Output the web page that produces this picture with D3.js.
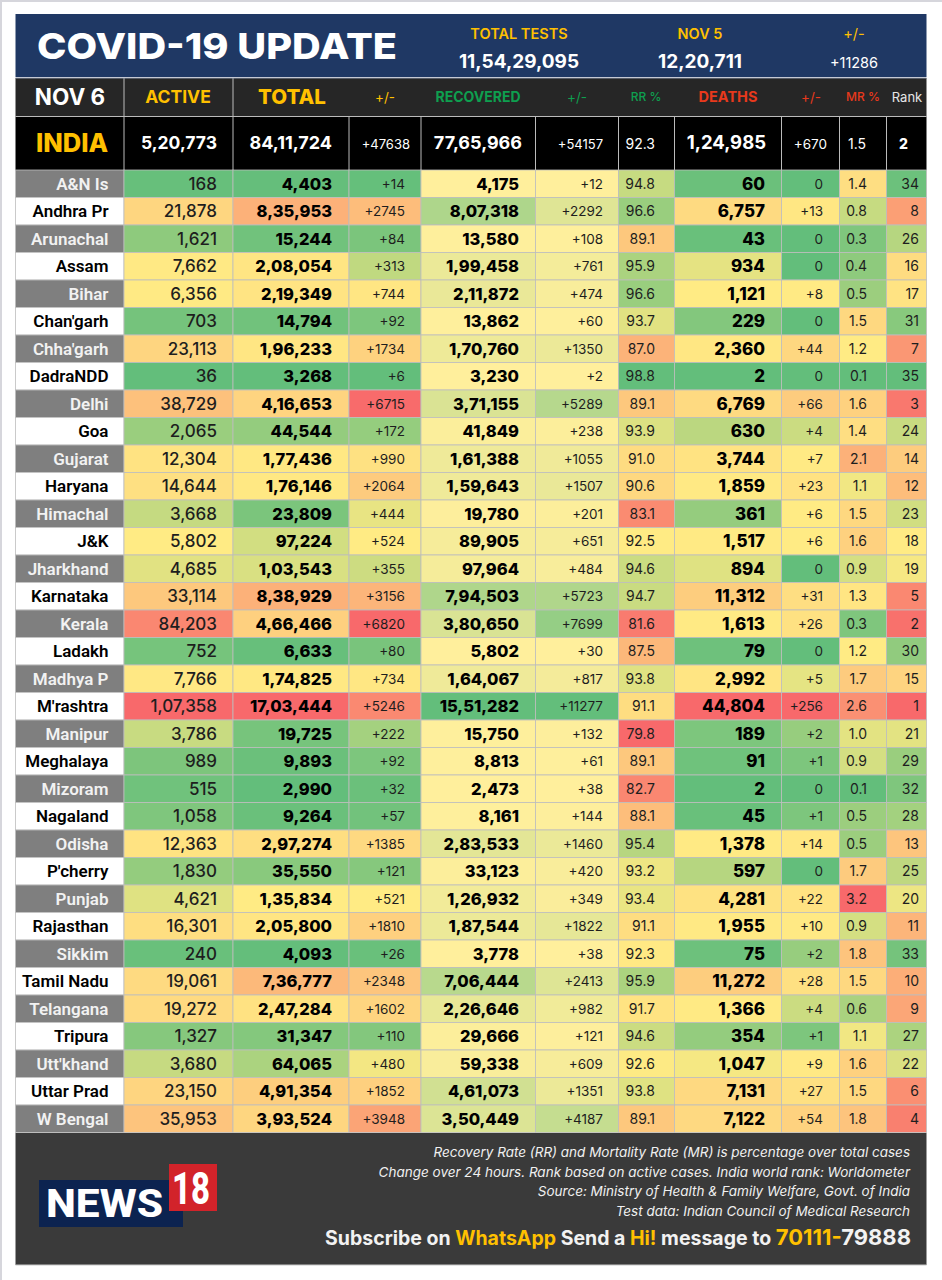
<!DOCTYPE html>
<html>
<head>
<meta charset="utf-8">
<script src="https://cdnjs.cloudflare.com/ajax/libs/d3/7.8.5/d3.min.js"></script>
<style>
  html, body { margin: 0; padding: 0; background: #fff; }
  svg { display: block; }
  text { font-family: Inter, sans-serif; }
</style>
</head>
<body>
<svg id="chart" width="942" height="1280"></svg>
<script>
// ---- data ----
const states = ["A&N Is","Andhra Pr","Arunachal","Assam","Bihar","Chan'garh","Chha'garh","DadraNDD","Delhi","Goa","Gujarat","Haryana","Himachal","J&K","Jharkhand","Karnataka","Kerala","Ladakh","Madhya P","M'rashtra","Manipur","Meghalaya","Mizoram","Nagaland","Odisha","P'cherry","Punjab","Rajasthan","Sikkim","Tamil Nadu","Telangana","Tripura","Utt'khand","Uttar Prad","W Bengal"];
const active = [168,21878,1621,7662,6356,703,23113,36,38729,2065,12304,14644,3668,5802,4685,33114,84203,752,7766,107358,3786,989,515,1058,12363,1830,4621,16301,240,19061,19272,1327,3680,23150,35953];
const total = [4403,835953,15244,208054,219349,14794,196233,3268,416653,44544,177436,176146,23809,97224,103543,838929,466466,6633,174825,1703444,19725,9893,2990,9264,297274,35550,135834,205800,4093,736777,247284,31347,64065,491354,393524];
const totalChange = [14,2745,84,313,744,92,1734,6,6715,172,990,2064,444,524,355,3156,6820,80,734,5246,222,92,32,57,1385,121,521,1810,26,2348,1602,110,480,1852,3948];
const recovered = [4175,807318,13580,199458,211872,13862,170760,3230,371155,41849,161388,159643,19780,89905,97964,794503,380650,5802,164067,1551282,15750,8813,2473,8161,283533,33123,126932,187544,3778,706444,226646,29666,59338,461073,350449];
const recoveredChange = [12,2292,108,761,474,60,1350,2,5289,238,1055,1507,201,651,484,5723,7699,30,817,11277,132,61,38,144,1460,420,349,1822,38,2413,982,121,609,1351,4187];
const recoveryRate = [94.8,96.6,89.1,95.9,96.6,93.7,87.0,98.8,89.1,93.9,91.0,90.6,83.1,92.5,94.6,94.7,81.6,87.5,93.8,91.1,79.8,89.1,82.7,88.1,95.4,93.2,93.4,91.1,92.3,95.9,91.7,94.6,92.6,93.8,89.1];
const deaths = [60,6757,43,934,1121,229,2360,2,6769,630,3744,1859,361,1517,894,11312,1613,79,2992,44804,189,91,2,45,1378,597,4281,1955,75,11272,1366,354,1047,7131,7122];
const deathsChange = [0,13,0,0,8,0,44,0,66,4,7,23,6,6,0,31,26,0,5,256,2,1,0,1,14,0,22,10,2,28,4,1,9,27,54];
const mortalityRate = [1.4,0.8,0.3,0.4,0.5,1.5,1.2,0.1,1.6,1.4,2.1,1.1,1.5,1.6,0.9,1.3,0.3,1.2,1.7,2.6,1.0,0.9,0.1,0.5,0.5,1.7,3.2,0.9,1.8,1.5,0.6,1.1,1.6,1.5,1.8];
const rank = [34,8,26,16,17,31,7,35,3,24,14,12,23,18,19,5,2,30,15,1,21,29,32,28,13,25,20,11,33,10,9,27,22,6,4];

const indiaValues = ["5,20,773","84,11,724","+47638","77,65,966","+54157","92.3","1,24,985","+670","1.5","2"];
const headerLabels = ["ACTIVE","TOTAL","+/-","RECOVERED","+/-","RR %","DEATHS","+/-","MR %","Rank"];
const testLabels = ["TOTAL TESTS","NOV 5","+/-"];
const testValues = ["11,54,29,095","12,20,711","+11286"];
const footNotes = [
  "Recovery Rate (RR) and Mortality Rate (MR) is percentage over total cases",
  "Change over 24 hours. Rank based on active cases. India world rank: Worldometer",
  "Source: Ministry of Health & Family Welfare, Govt. of India",
  "Test data: Indian Council of Medical Research"
];

// ---- layout ----
const left = 15.5, right = 926.5;
const edges = [left,124,233,349,421,535.5,618.5,674.5,781.5,839.5,886.5,right];
const rowY = d3.scaleBand().domain(states).range([170, 1132.5]);
const green = "#63BE7B", yellow = "#FFEB84", red = "#F8696B", paleYellow = "#FFEF9C";

// three colour excel style scale: low - median - high
const heat = v => d3.scaleLinear().domain([d3.min(v), d3.median(v), d3.max(v)]).range([green, yellow, red]);
const heatRev = v => d3.scaleLinear().domain([d3.min(v), d3.median(v), d3.max(v)]).range([red, yellow, green]);
const ramp = v => d3.scaleLinear().domain([d3.min(v), d3.max(v)]).range([paleYellow, green]);

const inr = n => {
  const s = String(n);
  if (s.length <= 3) return s;
  return s.slice(0, -3).replace(/\B(?=(\d{2})+$)/g, ",") + "," + s.slice(-3);
};
const plus = n => n === 0 ? "0" : "+" + n;
const dec = n => n.toFixed(1);

const columns = [
  {values: active, color: heat(active), fmt: inr, tx: 217, size: 17, weight: 500},
  {values: total, color: heat(total), fmt: inr, tx: 332, size: 16.5, weight: 800},
  {values: totalChange, color: heat(totalChange), fmt: plus, tx: 405, size: 13.5, weight: 400},
  {values: recovered, color: ramp(recovered), fmt: inr, tx: 519, size: 16.5, weight: 800},
  {values: recoveredChange, color: ramp(recoveredChange), fmt: plus, tx: 603, size: 13.5, weight: 400},
  {values: recoveryRate, color: heatRev(recoveryRate), fmt: dec, tx: 655, size: 14, weight: 400},
  {values: deaths, color: heat(deaths), fmt: inr, tx: 765, size: 17, weight: 800},
  {values: deathsChange, color: heat(deathsChange), fmt: plus, tx: 823, size: 13.5, weight: 400},
  {values: mortalityRate, color: heat(mortalityRate), fmt: dec, tx: 867, size: 14, weight: 400},
  {values: rank, color: heatRev(rank), fmt: String, tx: 919, size: 14, weight: 400}
];

const svg = d3.select("#chart");

// page edge
svg.append("path").attr("d", "M1,1280V1H942").attr("fill", "none").attr("stroke", "#d6d6dc").attr("stroke-width", 2);

// ---- top banner ----
svg.append("rect").attr("x", left).attr("y", 14).attr("width", right - left).attr("height", 63).attr("fill", "#1F3864");
svg.append("text").attr("x", 37).attr("y", 59).attr("font-size", 36).attr("font-weight", 800).attr("fill", "#fff")
  .attr("textLength", 360).attr("lengthAdjust", "spacingAndGlyphs").text("COVID-19 UPDATE");

const testX = [519, 700, 854];
svg.selectAll(".testLabel").data(testLabels).join("text").attr("class", "testLabel")
  .attr("x", (d, i) => testX[i]).attr("y", 39).attr("text-anchor", "middle")
  .attr("font-size", 14.5).attr("font-weight", (d, i) => i === 2 ? 400 : 600).attr("fill", "#FFC000").text(d => d);
svg.selectAll(".testValue").data(testValues).join("text").attr("class", "testValue")
  .attr("x", (d, i) => testX[i]).attr("y", 68).attr("text-anchor", "middle")
  .attr("font-size", (d, i) => i === 2 ? 14.5 : 19).attr("font-weight", (d, i) => i === 2 ? 400 : 700).attr("fill", "#fff").text(d => d);

// ---- header row ----
const headY = 78, headH = 38.5, indiaY = 116.5, indiaH = 53.5;
svg.append("rect").attr("x", left).attr("y", headY).attr("width", right - left).attr("height", headH).attr("fill", "#262626");
svg.append("rect").attr("x", left).attr("y", indiaY).attr("width", right - left).attr("height", indiaH).attr("fill", "#000");

const headCx = [178, 292, 385, 478, 577, 646, 728, 811, 863, 907];
const headColor = ["#FFC000","#FFC000","#FFC000","#0E9F4F","#0E9F4F","#0E9F4F","#E8391C","#E8391C","#E8391C","#e6e6e6"];
const headSize = [17.5, 20.5, 13.5, 14, 13.5, 12, 14.5, 13.5, 12, 13];
const headWeight = [700, 800, 400, 700, 400, 500, 700, 400, 500, 400];
svg.append("text").attr("x", 70).attr("y", 105).attr("text-anchor", "middle").attr("font-size", 22.5).attr("font-weight", 700).attr("fill", "#fff").text("NOV 6");
svg.selectAll(".head").data(headerLabels).join("text").attr("class", "head")
  .attr("x", (d, i) => headCx[i]).attr("y", (d, i) => 97 + headSize[i] * 0.36).attr("text-anchor", "middle")
  .attr("font-size", (d, i) => headSize[i]).attr("font-weight", (d, i) => headWeight[i]).attr("fill", (d, i) => headColor[i]).text(d => d);

// ---- india row ----
svg.append("text").attr("x", 72).attr("y", 152).attr("text-anchor", "middle").attr("font-size", 25.5).attr("font-weight", 800).attr("fill", "#FFC000").text("INDIA");
const indiaX = [217, 332, 410, 522, 603, 655, 766, 827, 866, 908];
const indiaSize = [17.5, 18, 13, 18, 13, 14, 18.5, 13.5, 14, 14];
const indiaWeight = [700, 700, 400, 700, 400, 400, 700, 400, 400, 800];
svg.selectAll(".india").data(indiaValues).join("text").attr("class", "india")
  .attr("x", (d, i) => indiaX[i]).attr("y", 149).attr("text-anchor", "end")
  .attr("font-size", (d, i) => indiaSize[i]).attr("font-weight", (d, i) => indiaWeight[i]).attr("fill", "#fff").text(d => d);

// header + india dividers
const headEdges = [124, 233];
svg.selectAll(".hdiv").data(headEdges).join("line").attr("class", "hdiv")
  .attr("x1", d => d).attr("x2", d => d).attr("y1", headY).attr("y2", headY + headH).attr("stroke", "#bbb");
svg.selectAll(".idiv").data(edges.slice(1, -1)).join("line").attr("class", "idiv")
  .attr("x1", d => d).attr("x2", d => d).attr("y1", indiaY).attr("y2", indiaY + indiaH).attr("stroke", "#bbb");
svg.append("line").attr("x1", left).attr("x2", right).attr("y1", indiaY).attr("y2", indiaY).attr("stroke", "#bbb");
svg.append("line").attr("x1", left).attr("x2", right).attr("y1", headY).attr("y2", headY).attr("stroke", "#8a93a8");

// ---- state rows ----
svg.selectAll(".labelCell").data(states).join("rect").attr("class", "labelCell")
  .attr("x", left).attr("y", d => rowY(d)).attr("width", edges[1] - left).attr("height", rowY.bandwidth())
  .attr("fill", (d, i) => i % 2 ? "#fff" : "#7F7F7F").attr("stroke", "#bdbdbd").attr("stroke-width", 0.8);
svg.selectAll(".labelText").data(states).join("text").attr("class", "labelText")
  .attr("x", 108.5).attr("y", d => rowY(d) + rowY.bandwidth() / 2 + 5.8).attr("text-anchor", "end")
  .style("font-family", "Roboto, sans-serif")
  .attr("font-size", 17).attr("font-weight", 600)
  .attr("fill", (d, i) => i % 2 ? "#000" : "#f2f2f2").text(d => d);

const col = svg.selectAll(".col").data(columns).join("g").attr("class", "col");
col.each(function (c, ci) {
  const g = d3.select(this);
  const cells = c.values.map((v, i) => ({v, state: states[i]}));
  g.selectAll("rect").data(cells).join("rect")
    .attr("x", edges[ci + 1]).attr("y", d => rowY(d.state))
    .attr("width", edges[ci + 2] - edges[ci + 1]).attr("height", rowY.bandwidth())
    .attr("fill", d => c.color(d.v)).attr("stroke", "#bdbdbd").attr("stroke-width", 0.8);
  g.selectAll("text").data(cells).join("text")
    .attr("x", c.tx).attr("y", d => rowY(d.state) + rowY.bandwidth() / 2 + c.size * 0.36)
    .attr("text-anchor", "end").attr("font-size", c.size).attr("font-weight", c.weight)
    .attr("fill", c.weight > 600 ? "#000" : "#1e1e1e").text(d => c.fmt(d.v));
});

// ---- footer ----
svg.append("rect").attr("x", left).attr("y", 1133).attr("width", right - left).attr("height", 132).attr("fill", "#3A3A3A");
svg.append("line").attr("x1", left).attr("x2", right).attr("y1", 1265).attr("y2", 1265).attr("stroke", "#c8c8c8");
const noteY = d3.scalePoint().domain(footNotes).range([1157, 1216]);
svg.selectAll(".note").data(footNotes).join("text").attr("class", "note")
  .attr("x", 910).attr("y", d => noteY(d)).attr("text-anchor", "end")
  .attr("font-size", 13.5).attr("font-style", "italic").attr("fill", "#f0f0f0").text(d => d);

const sub = svg.append("text").attr("x", 911).attr("y", 1245).attr("text-anchor", "end").attr("font-size", 19.5).attr("font-weight", 700).attr("fill", "#f2f2f2");
const subParts = [["Subscribe on ", null], ["WhatsApp", "#FFC000"], [" Send a ", null], ["Hi!", "#FFC000"], [" message to ", null], ["70111-", "#FFC000", 22], ["79888", null, 22]];
subParts.forEach(p => sub.append("tspan").attr("fill", p[1]).attr("font-size", p[2] || null).text(p[0]));

// logo
svg.append("rect").attr("x", 39).attr("y", 1180).attr("width", 144).attr("height", 47).attr("fill", "#0C2350");
svg.append("rect").attr("x", 169).attr("y", 1164).attr("width", 48).attr("height", 47).attr("fill", "#D2232A");
svg.append("text").attr("x", 46).attr("y", 1217).attr("font-size", 38).attr("font-weight", 800).attr("fill", "#fff")
  .style("font-family", "Roboto, sans-serif").attr("textLength", 117).attr("lengthAdjust", "spacingAndGlyphs").text("NEWS");
svg.append("text").attr("x", 172).attr("y", 1204).attr("font-size", 44).attr("font-weight", 800).attr("fill", "#fff")
  .style("font-family", "Roboto, sans-serif").attr("textLength", 38).attr("lengthAdjust", "spacingAndGlyphs").text("18");
</script>
</body>
</html>
